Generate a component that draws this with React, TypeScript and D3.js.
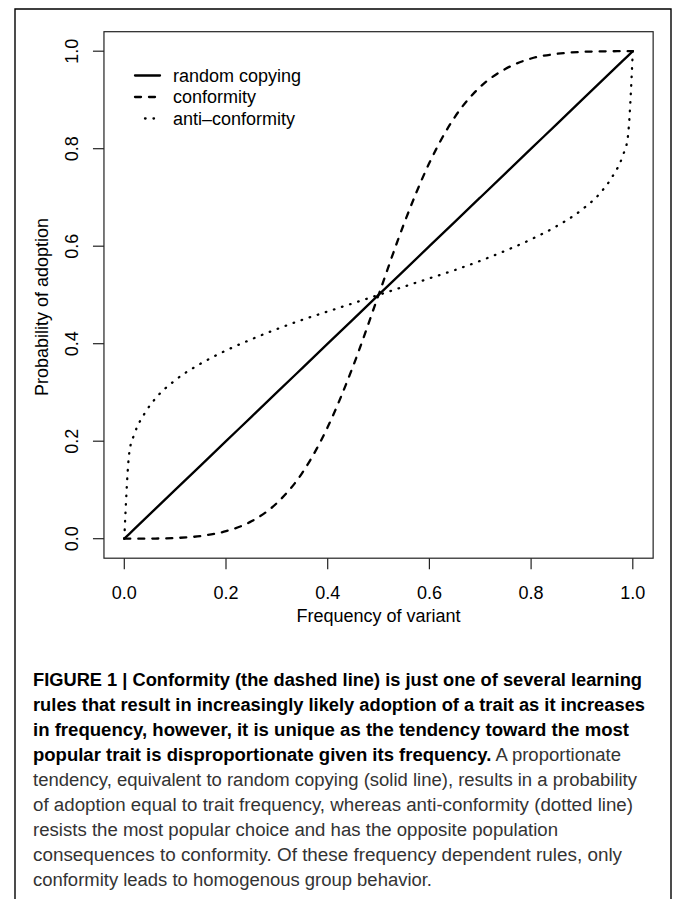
import * as d3 from "d3";

// frequency of variant (x) and the three learning rules
const freq = [0, 0.01, 0.02, 0.04, 0.06, 0.1, 0.15, 0.2, 0.25, 0.3, 0.35, 0.4, 0.45, 0.5, 0.55, 0.6, 0.65, 0.7, 0.75, 0.8, 0.85, 0.9, 0.94, 0.96, 0.98, 0.99, 1];
const randomCopying = [0, 0.01, 0.02, 0.04, 0.06, 0.1, 0.15, 0.2, 0.25, 0.3, 0.35, 0.4, 0.45, 0.5, 0.55, 0.6, 0.65, 0.7, 0.75, 0.8, 0.85, 0.9, 0.94, 0.96, 0.98, 0.99, 1];
const conformity = [0, 0, 0, 0.0001, 0.0003, 0.0014, 0.0055, 0.0154, 0.0357, 0.073, 0.135, 0.229, 0.354, 0.5, 0.646, 0.771, 0.865, 0.927, 0.964, 0.985, 0.9945, 0.9986, 0.9997, 0.9999, 1, 1, 1];
const antiConformity = [0, 0.178, 0.215, 0.257, 0.286, 0.325, 0.359, 0.386, 0.409, 0.43, 0.449, 0.466, 0.483, 0.5, 0.517, 0.534, 0.551, 0.57, 0.591, 0.614, 0.641, 0.675, 0.714, 0.743, 0.785, 0.822, 1];

const xTicks = [0, 0.2, 0.4, 0.6, 0.8, 1];
const yTicks = [0, 0.2, 0.4, 0.6, 0.8, 1];

const legendLabels = ["random copying", "conformity", "anti\u2013conformity"];

// caption: one entry per printed line, [text, bold]
const captionLines: [string, boolean][][] = [
  [["FIGURE 1 | Conformity (the dashed line) is just one of several learning", true]],
  [["rules that result in increasingly likely adoption of a trait as it increases", true]],
  [["in frequency, however, it is unique as the tendency toward the most", true]],
  [["popular trait is disproportionate given its frequency.", true], [" A proportionate", false]],
  [["tendency, equivalent to random copying (solid line), results in a probability", false]],
  [["of adoption equal to trait frequency, whereas anti-conformity (dotted line)", false]],
  [["resists the most popular choice and has the opposite population", false]],
  [["consequences to conformity. Of these frequency dependent rules, only", false]],
  [["conformity leads to homogenous group behavior.", false]],
];
const captionEnds = [642, 645, 629, 621, 637, 633, 558, 622, 432];

const W = 673;
const H = 899;
const font = "'Liberation Sans', Arial, Helvetica, sans-serif";

export default function App() {
  const x = d3.scaleLinear().domain([0, 1]).range([124.3, 632.8]);
  const y = d3.scaleLinear().domain([0, 1]).range([538.7, 51.2]);

  const line = (ys: number[]) =>
    d3
      .line<number>()
      .x((d) => x(d))
      .y((_, i) => y(ys[i]))
      .curve(d3.curveMonotoneX)(freq) as string;

  const series = [
    { ys: randomCopying, dash: undefined, lx: [135, 160] },
    { ys: conformity, dash: "6,8", lx: [135, 160] },
    { ys: antiConformity, dash: "0.6,7.9", lx: [145, 154] },
  ];

  const boxL = x(-0.04);
  const boxR = x(1.04);
  const boxT = y(1.04);
  const boxB = y(-0.04);
  const fmt = d3.format(".1f");

  return (
    <svg width={W} height={H} style={{ display: "block", fontFamily: font }}>
      <style>{`body{margin:0}`}</style>
      <rect x={0} y={0} width={W} height={H} fill="#fff" />
      {/* outer figure frame */}
      <path d={`M15,${H + 5}V9H671V${H + 5}`} fill="none" stroke="#000" strokeWidth={1.4} />

      {/* plot box */}
      <rect x={boxL} y={boxT} width={boxR - boxL} height={boxB - boxT} fill="none" stroke="#222" strokeWidth={1.2} />

      {/* x axis */}
      {xTicks.map((t) => (
        <g key={"x" + t}>
          <line x1={x(t)} x2={x(t)} y1={boxB} y2={boxB + 11} stroke="#222" strokeWidth={1.2} />
          <text x={x(t)} y={599.3} textAnchor="middle" fontSize={18} fill="#000">
            {fmt(t)}
          </text>
        </g>
      ))}
      <text x={(x(0) + x(1)) / 2} y={621.5} textAnchor="middle" fontSize={18} fill="#000">
        Frequency of variant
      </text>

      {/* y axis */}
      {yTicks.map((t) => (
        <g key={"y" + t}>
          <line x1={boxL - 11} x2={boxL} y1={y(t)} y2={y(t)} stroke="#222" strokeWidth={1.2} />
          <text
            transform={`translate(78.4,${y(t)}) rotate(-90)`}
            textAnchor="middle"
            fontSize={18}
            fill="#000"
          >
            {fmt(t)}
          </text>
        </g>
      ))}
      <text transform="translate(47.5,307) rotate(-90)" textAnchor="middle" fontSize={18} fill="#000">
        Probability of adoption
      </text>

      {/* curves */}
      {series.map((s, i) => (
        <path
          key={i}
          d={line(s.ys)}
          fill="none"
          stroke="#000"
          strokeWidth={2.3}
          strokeDasharray={s.dash}
          strokeLinecap="round"
          strokeLinejoin="round"
        />
      ))}

      {/* legend */}
      {legendLabels.map((lab, i) => {
        const ly = 75.5 + i * 21.5;
        return (
          <g key={lab}>
            <line
              x1={series[i].lx[0]}
              x2={series[i].lx[1]}
              y1={ly}
              y2={ly}
              stroke="#000"
              strokeWidth={2.3}
              strokeLinecap="round"
              strokeDasharray={series[i].dash}
            />
            <text x={173} y={ly + 6} fontSize={18} fill="#000">
              {lab}
            </text>
          </g>
        );
      })}

      {/* caption */}
      {captionLines.map((segs, i) => (
        <text
          key={"c" + i}
          x={33}
          y={686 + i * 25}
          fontSize={18}
          textLength={captionEnds[i] - 33}
          lengthAdjust="spacingAndGlyphs"
        >
          {segs.map(([t, b], j) => (
            <tspan key={j} fontWeight={b ? "bold" : "normal"} fill={b ? "#000" : "#333"}>
              {t}
            </tspan>
          ))}
        </text>
      ))}
    </svg>
  );
}
